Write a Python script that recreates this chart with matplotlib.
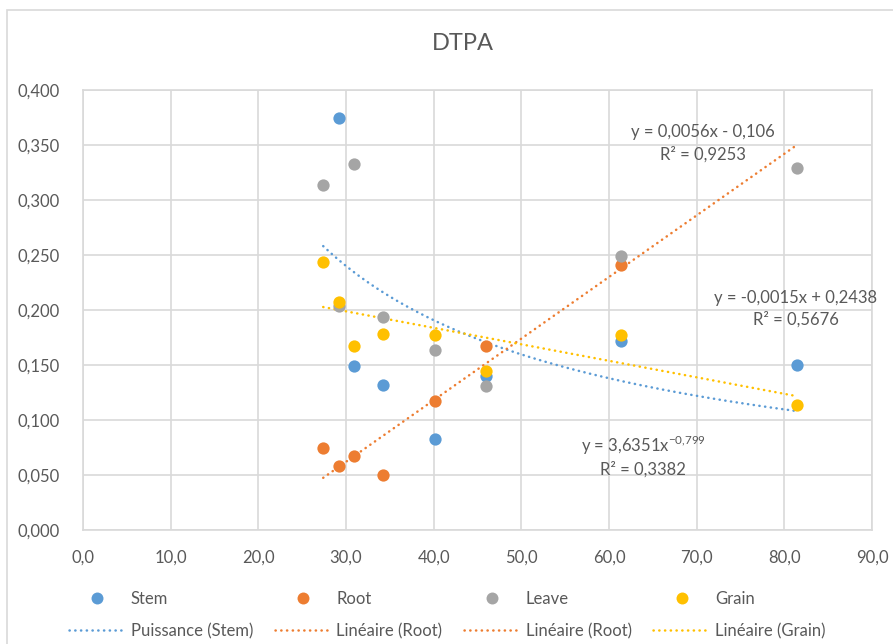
import numpy as np
import matplotlib
matplotlib.use('Agg')
import matplotlib.pyplot as plt
from matplotlib.lines import Line2D
from matplotlib.patches import Rectangle
from matplotlib.ticker import FuncFormatter

plt.rcParams['font.family'] = ['Lato', 'DejaVu Sans']

# ============================== Data =========================================
stem_x = [29.2, 30.95, 34.2, 40.2, 46.0, 61.4, 81.4]
stem_y = [0.375, 0.149, 0.132, 0.083, 0.140, 0.172, 0.150]

root_x = [27.4, 29.2, 30.95, 34.2, 40.2, 46.0, 61.4]
root_y = [0.075, 0.058, 0.067, 0.050, 0.117, 0.167, 0.241]

leave_x = [27.4, 29.2, 30.95, 34.2, 40.2, 46.0, 61.4, 81.4]
leave_y = [0.314, 0.204, 0.333, 0.194, 0.164, 0.131, 0.249, 0.329]

grain_x = [27.4, 29.2, 30.95, 34.2, 40.2, 46.0, 61.4, 81.4]
grain_y = [0.244, 0.207, 0.167, 0.178, 0.177, 0.145, 0.177, 0.114]

# coefficients des courbes de tendance
pow_stem = (3.6351, -0.799)
lin_root = (0.0056, -0.106)
lin_grain = (-0.0015, 0.2438)
trend_range = (27.4, 81.4)

c_stem, c_root, c_leave, c_grain = '#5B9BD5', '#ED7D31', '#A5A5A5', '#FFC000'
txt = '#595959'
grid = '#D9D9D9'

# ============================== Figure =======================================
fig = plt.figure(figsize=(8.93, 6.44), dpi=100)
fig.patches.append(Rectangle((7/893, -0.05), 1.2, 0.9845 + 0.05, transform=fig.transFigure,
                             fill=False, edgecolor=grid, lw=1.2))
ax = fig.add_axes([83/893, 114/644, 789/893, 440/644])

xx = np.linspace(trend_range[0], trend_range[1], 200)
dots = (0, (0.1, 2.2))
lw_t = 1.8
ax.plot(xx, pow_stem[0]*xx**pow_stem[1], color=c_stem, lw=lw_t, ls=dots, dash_capstyle='round', zorder=2)
ax.plot(xx, lin_root[0]*xx + lin_root[1], color=c_root, lw=lw_t, ls=dots, dash_capstyle='round', zorder=2)
ax.plot(xx, lin_grain[0]*xx + lin_grain[1], color=c_grain, lw=lw_t, ls=dots, dash_capstyle='round', zorder=2)

ms = 78
ax.scatter(stem_x, stem_y, s=ms, color=c_stem, zorder=3, linewidths=0)
ax.scatter(root_x, root_y, s=ms, color=c_root, zorder=3, linewidths=0)
ax.scatter(leave_x, leave_y, s=ms, color=c_leave, zorder=3, linewidths=0)
ax.scatter(grain_x, grain_y, s=ms, color=c_grain, zorder=3, linewidths=0)

ax.set_xlim(0, 90)
ax.set_ylim(0, 0.4)
ax.set_xticks(np.arange(0, 91, 10))
ax.set_yticks(np.arange(0, 0.401, 0.05))
ax.xaxis.set_major_formatter(FuncFormatter(lambda v, p: f'{v:.1f}'.replace('.', ',')))
ax.yaxis.set_major_formatter(FuncFormatter(lambda v, p: f'{v:.3f}'.replace('.', ',')))
ax.tick_params(length=0, labelsize=12, colors=txt)
ax.tick_params(axis='y', pad=17)
ax.tick_params(axis='x', pad=14)
ax.grid(True, color=grid, lw=1.2, zorder=0)
ax.set_axisbelow(True)
for s in ax.spines.values():
    s.set_color(grid)
    s.set_linewidth(1.2)

fig.text(463/893, 1 - 44/644, 'DTPA', ha='center', va='center', fontsize=17, color=txt)

# équations
fs = 12
ax.text(70.7, 0.3618, 'y = 0,0056x - 0,106', ha='center', va='center', fontsize=fs, color=txt)
ax.text(70.7, 0.3418, 'R² = 0,9253', ha='center', va='center', fontsize=fs, color=txt)
ax.text(81.3, 0.211, 'y = -0,0015x + 0,2438', ha='center', va='center', fontsize=fs, color=txt)
ax.text(81.3, 0.191, 'R² = 0,5676', ha='center', va='center', fontsize=fs, color=txt)
ax.text(63.9, 0.0773, r'y = 3,6351x$^{\mathregular{-0{,}799}}$', ha='center', va='center', fontsize=fs, color=txt)
ax.text(63.9, 0.0555, 'R² = 0,3382', ha='center', va='center', fontsize=fs, color=txt)

# ============================== Legend =======================================
def mk(c):
    return Line2D([], [], ls='none', marker='o', markersize=8.6, color=c, markeredgewidth=0)

def ln(c):
    return Line2D([], [], color=c, lw=lw_t, ls=dots, dash_capstyle='round')

handles = [mk(c_stem), ln(c_stem), mk(c_root), ln(c_root),
           mk(c_leave), ln(c_root), mk(c_grain), ln(c_grain)]
labels = ['Stem', 'Puissance (Stem)', 'Root', 'Linéaire (Root)',
          'Leave', 'Linéaire (Root)', 'Grain', 'Linéaire (Grain)']
leg = fig.legend(handles, labels, ncol=4, loc='center', bbox_to_anchor=(0.501, 0.045),
                 frameon=False, fontsize=12, handlelength=3.4, handletextpad=0.3,
                 columnspacing=1.3, labelspacing=0.95)
for t in leg.get_texts():
    t.set_color(txt)

plt.savefig('out.png', dpi=100)
